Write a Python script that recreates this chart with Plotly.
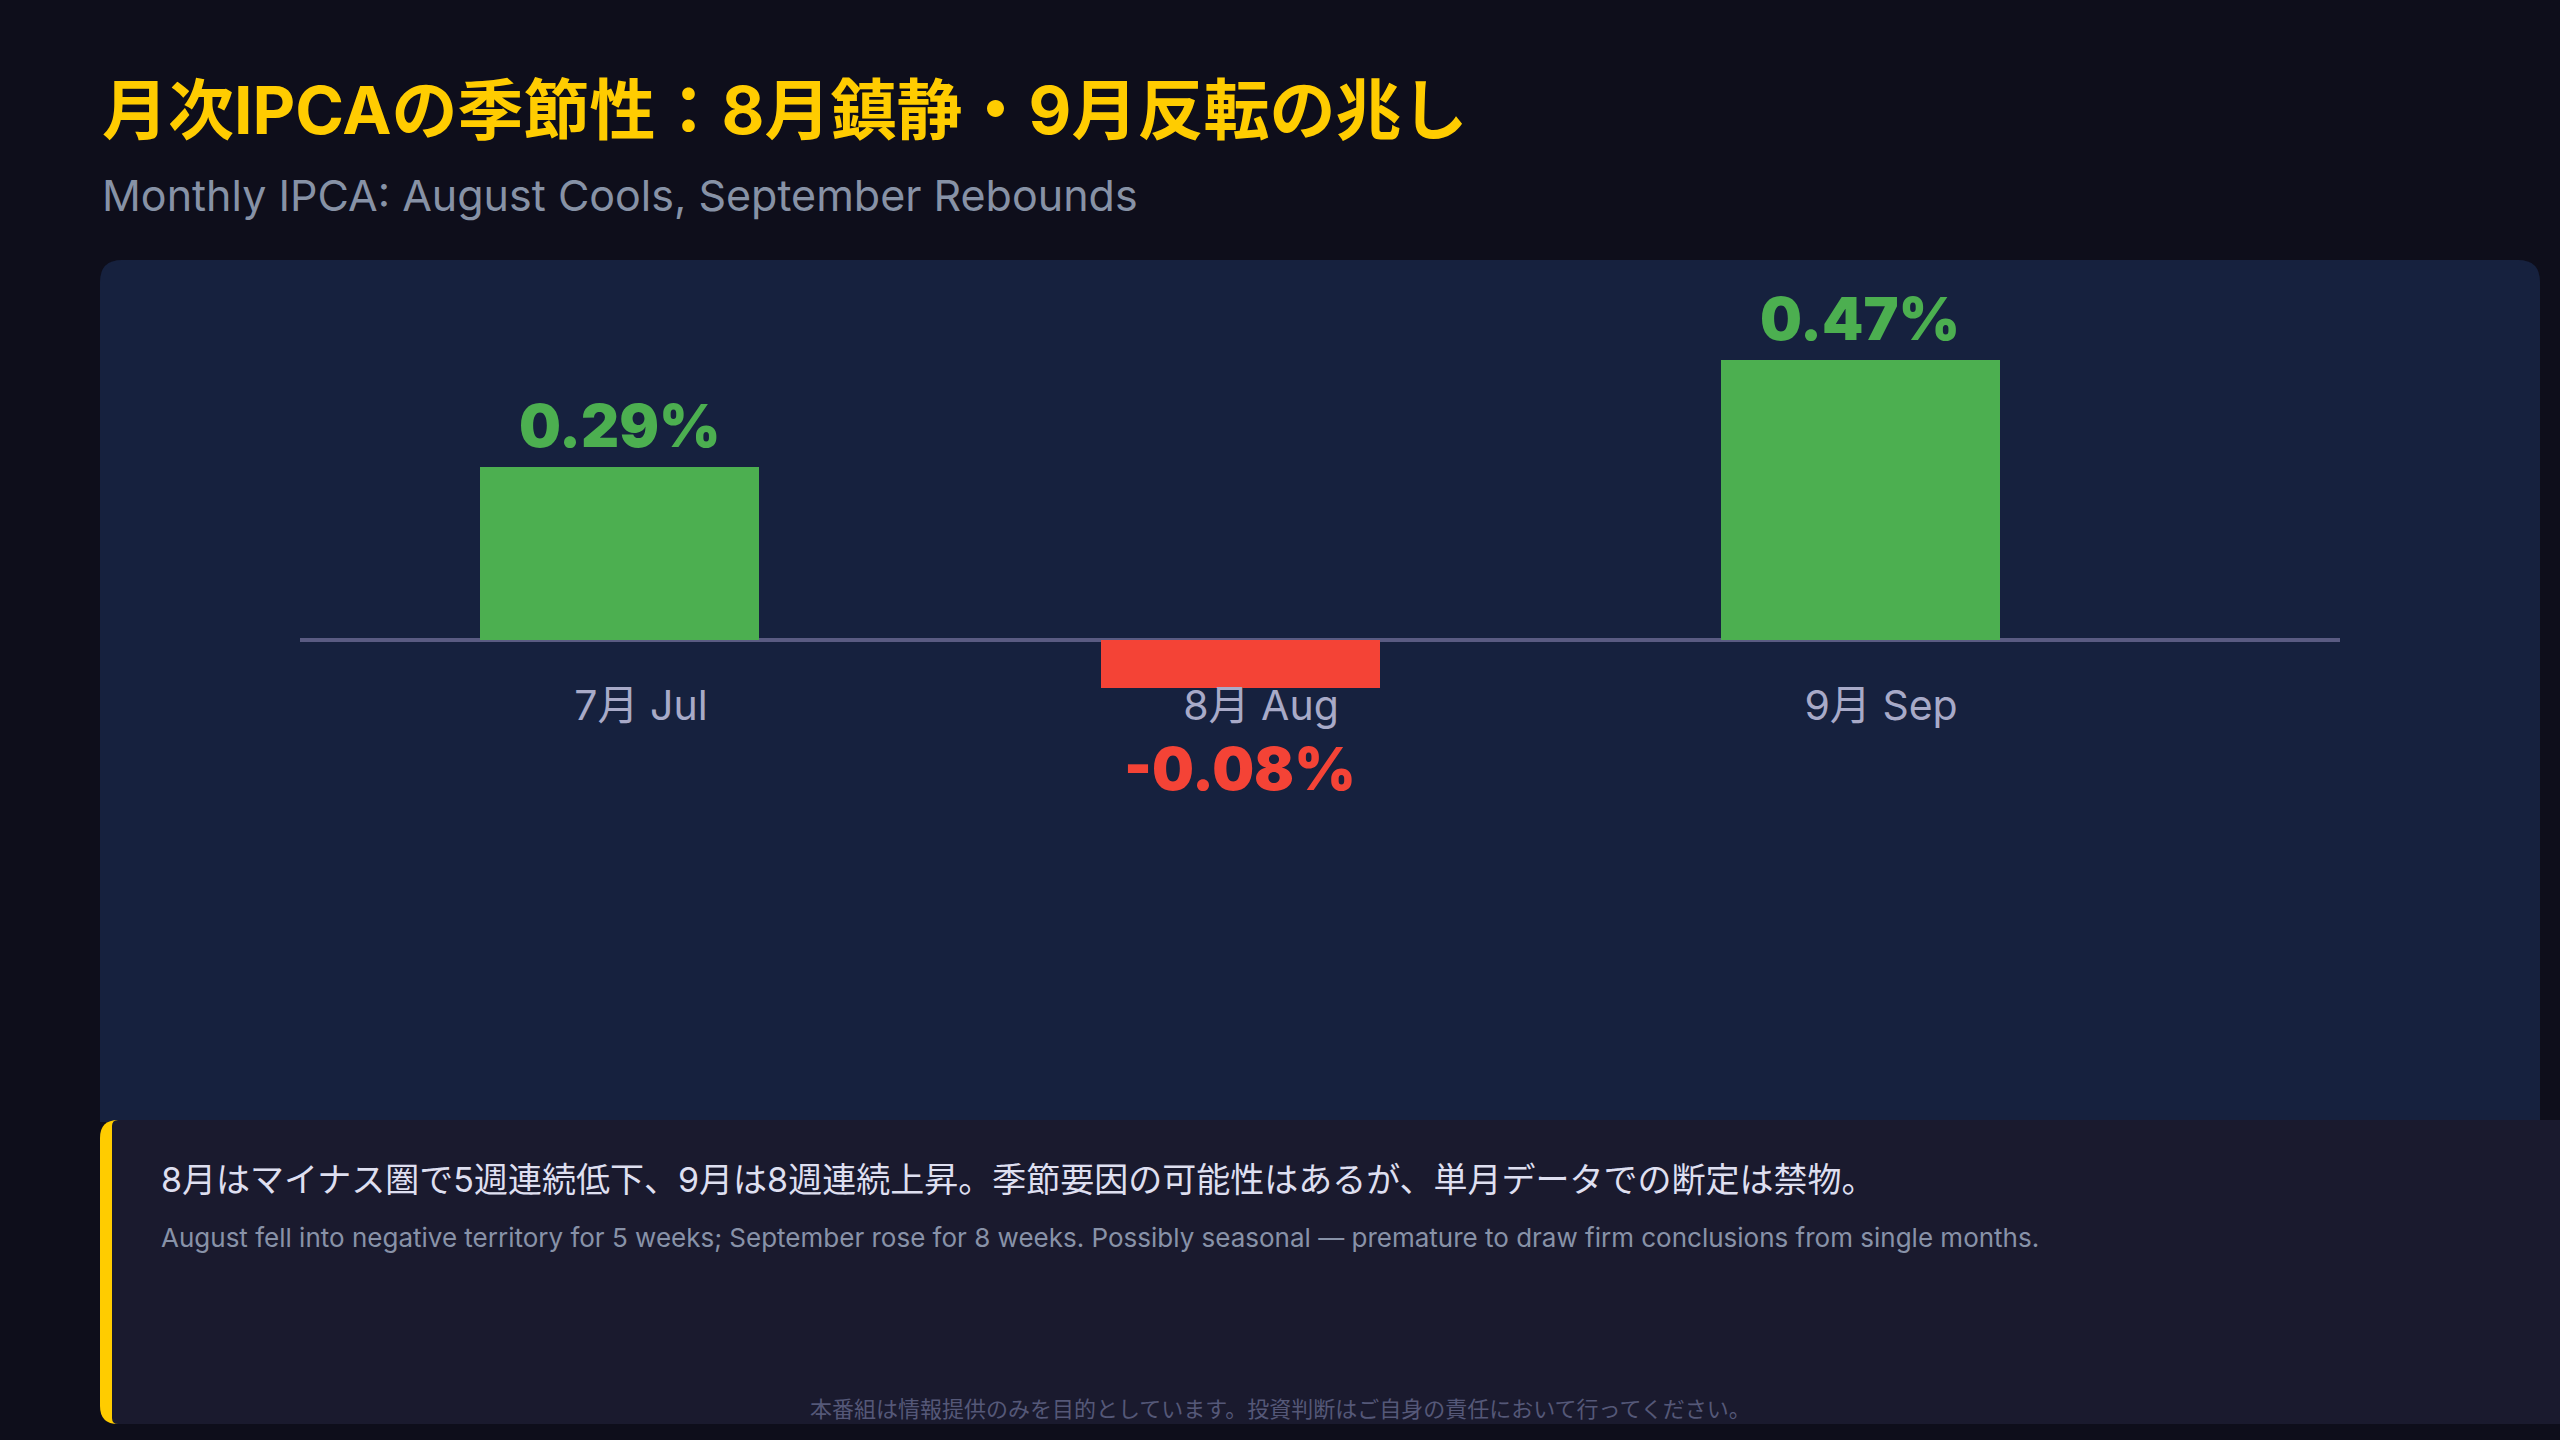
import plotly.graph_objects as go

# ---- data ----
months = ["7月 Jul", "8月 Aug", "9月 Sep"]
ipca_mom = [0.29, -0.08, 0.47]

title_jp = "月次IPCAの季節性：8月鎮静・9月反転の兆し"
title_en = "Monthly IPCA: August Cools, September Rebounds"
note_jp = "8月はマイナス圏で5週連続低下、9月は8週連続上昇。季節要因の可能性はあるが、単月データでの断定は禁物。"
note_en = ("August fell into negative territory for 5 weeks; September rose for 8 weeks. "
           "Possibly seasonal — premature to draw firm conclusions from single months.")
disclaimer = "本番組は情報提供のみを目的としています。投資判断はご自身の責任において行ってください。"

# ---- style ----
W, H = 2560, 1440
BG = "#0e0e1b"
PANEL = "#16213e"
BOX = "#1a1a2e"
YELLOW = "#ffcc00"
POS = "#4caf50"
NEG = "#f44336"
FONT = "Inter, 'Noto Sans CJK JP', sans-serif"
CJK = "'Noto Sans CJK JP', sans-serif"


def px(x):
    return x / W


def py(y):
    return 1 - y / H


def rounded_path(x0, y0, x1, y1, rtl, rtr, rbr, rbl):
    """rounded rect in page pixels -> paper path"""
    pts = []
    pts.append(f"M{px(x0 + rtl)},{py(y0)}")
    pts.append(f"L{px(x1 - rtr)},{py(y0)}")
    pts.append(f"Q{px(x1)},{py(y0)} {px(x1)},{py(y0 + rtr)}")
    pts.append(f"L{px(x1)},{py(y1 - rbr)}")
    pts.append(f"Q{px(x1)},{py(y1)} {px(x1 - rbr)},{py(y1)}")
    pts.append(f"L{px(x0 + rbl)},{py(y1)}")
    pts.append(f"Q{px(x0)},{py(y1)} {px(x0)},{py(y1 - rbl)}")
    pts.append(f"L{px(x0)},{py(y0 + rtl)}")
    pts.append(f"Q{px(x0)},{py(y0)} {px(x0 + rtl)},{py(y0)}")
    pts.append("Z")
    return " ".join(pts)


colors = [POS if v >= 0 else NEG for v in ipca_mom]

fig = go.Figure()
fig.add_trace(go.Bar(
    x=months, y=ipca_mom, marker=dict(color=colors, line=dict(width=0)),
    width=0.45, hoverinfo="skip", showlegend=False,
))

shapes = [
    dict(type="path", xref="paper", yref="paper", layer="below",
         path=rounded_path(100, 260, 2540, 1122, 22, 22, 0, 0),
         fillcolor=PANEL, line=dict(width=0)),
    dict(type="path", xref="paper", yref="paper", layer="below",
         path=rounded_path(100, 1120, 2600, 1424, 18, 18, 18, 18),
         fillcolor=YELLOW, line=dict(width=0)),
    dict(type="path", xref="paper", yref="paper", layer="below",
         path=rounded_path(112, 1120, 2600, 1424, 6, 18, 18, 6),
         fillcolor=BOX, line=dict(width=0)),
]

annotations = [
    dict(text=f"<b>{title_jp}</b>", x=px(100), y=py(110), xref="paper", yref="paper",
         xanchor="left", yanchor="middle", showarrow=False,
         font=dict(family=FONT, size=66, color=YELLOW, weight=700)),
    dict(text=title_en, x=px(100), y=py(195), xref="paper", yref="paper",
         xanchor="left", yanchor="middle", showarrow=False,
         font=dict(family=FONT, size=43, color="#8792a6")),
    dict(text=note_jp, x=px(159), y=py(1179), xref="paper", yref="paper",
         xanchor="left", yanchor="middle", showarrow=False,
         font=dict(family=FONT, size=34, color="#dedff0")),
    dict(text=note_en, x=px(159), y=py(1237), xref="paper", yref="paper",
         xanchor="left", yanchor="middle", showarrow=False,
         font=dict(family=FONT, size=26, color="#8892a8")),
    dict(text=disclaimer, x=0.5, y=py(1407), xref="paper", yref="paper",
         xanchor="center", yanchor="middle", showarrow=False,
         font=dict(family=CJK, size=22, color="#555878")),
]

for m, v, c in zip(months, ipca_mom, colors):
    annotations.append(dict(
        text=f"{v:.2f}%", x=m, y=v, xref="x", yref="y",
        xanchor="center", yanchor="bottom" if v >= 0 else "top",
        yshift=4 if v >= 0 else -43, showarrow=False,
        font=dict(family="Inter, sans-serif", size=59, color=c, weight=900),
    ))

fig.update_layout(
    width=W, height=H, paper_bgcolor=BG, plot_bgcolor="rgba(0,0,0,0)",
    margin=dict(l=0, r=0, t=0, b=0, pad=0),
    shapes=shapes, annotations=annotations, bargap=0,
    xaxis=dict(domain=[px(300), px(2340)], range=[-0.516, 2.774], type="category",
               anchor="free", position=py(640), showline=False, showgrid=False,
               zeroline=False, ticks="", ticklabelstandoff=38, ticklabelshift=21,
               tickfont=dict(family=FONT, size=41, color="#a8aac8"), fixedrange=True),
    yaxis=dict(domain=[py(1110), py(270)], range=[-0.7886, 0.6208],
               showgrid=False, showticklabels=False, ticks="",
               zeroline=True, zerolinecolor="#5a5b82", zerolinewidth=4, fixedrange=True),
)

fig.write_html("out.html", config={"displayModeBar": False})
